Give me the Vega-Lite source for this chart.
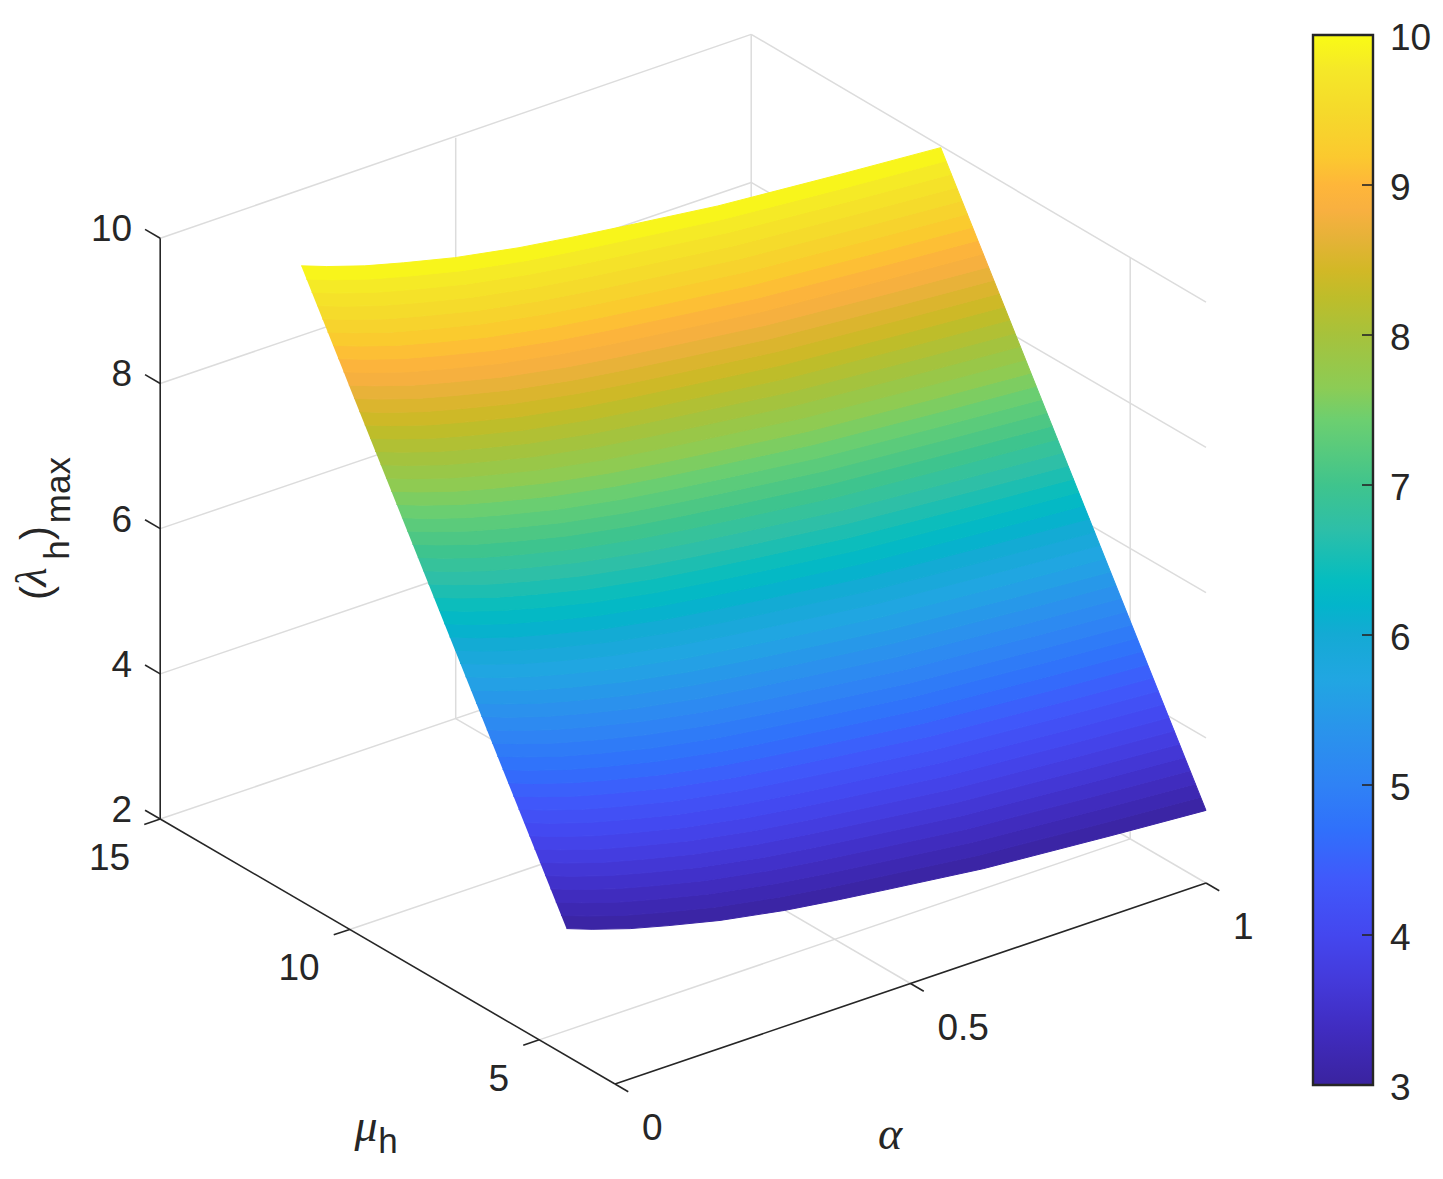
{"$schema":"https://vega.github.io/schema/vega-lite/v6.json","width":1443,"height":1179,"padding":0,"autosize":{"type":"none"},"background":"white","config":{"view":{"stroke":null}},
"data":{"values":[
{"a":0.1,"m":5.84,"l":3},{"a":0.126,"m":5.57,"l":3},{"a":0.168,"m":5.22,"l":3},{"a":0.215,"m":4.93,"l":3},{"a":0.279,"m":4.58,"l":3},{"a":0.366,"m":4.24,"l":3},{"a":0.439,"m":4.03,"l":3},{"a":0.514,"m":3.84,"l":3},{"a":0.655,"m":3.5,"l":3},{"a":0.852,"m":3.2,"l":3},{"a":1,"m":3,"l":3},
{"a":0.1,"m":5.98,"l":3.14},{"a":0.126,"m":5.71,"l":3.14},{"a":0.168,"m":5.36,"l":3.14},{"a":0.215,"m":5.07,"l":3.14},{"a":0.279,"m":4.72,"l":3.14},{"a":0.366,"m":4.38,"l":3.14},{"a":0.439,"m":4.17,"l":3.14},{"a":0.514,"m":3.98,"l":3.14},{"a":0.655,"m":3.64,"l":3.14},{"a":0.852,"m":3.34,"l":3.14},{"a":1,"m":3.14,"l":3.14},
{"a":0.1,"m":6.12,"l":3.28},{"a":0.126,"m":5.85,"l":3.28},{"a":0.168,"m":5.5,"l":3.28},{"a":0.215,"m":5.21,"l":3.28},{"a":0.279,"m":4.86,"l":3.28},{"a":0.366,"m":4.52,"l":3.28},{"a":0.439,"m":4.31,"l":3.28},{"a":0.514,"m":4.12,"l":3.28},{"a":0.655,"m":3.78,"l":3.28},{"a":0.852,"m":3.48,"l":3.28},{"a":1,"m":3.28,"l":3.28},
{"a":0.1,"m":6.26,"l":3.42},{"a":0.126,"m":5.99,"l":3.42},{"a":0.168,"m":5.64,"l":3.42},{"a":0.215,"m":5.35,"l":3.42},{"a":0.279,"m":5,"l":3.42},{"a":0.366,"m":4.66,"l":3.42},{"a":0.439,"m":4.45,"l":3.42},{"a":0.514,"m":4.26,"l":3.42},{"a":0.655,"m":3.92,"l":3.42},{"a":0.852,"m":3.62,"l":3.42},{"a":1,"m":3.42,"l":3.42},
{"a":0.1,"m":6.4,"l":3.56},{"a":0.126,"m":6.13,"l":3.56},{"a":0.168,"m":5.78,"l":3.56},{"a":0.215,"m":5.49,"l":3.56},{"a":0.279,"m":5.14,"l":3.56},{"a":0.366,"m":4.8,"l":3.56},{"a":0.439,"m":4.59,"l":3.56},{"a":0.514,"m":4.4,"l":3.56},{"a":0.655,"m":4.06,"l":3.56},{"a":0.852,"m":3.76,"l":3.56},{"a":1,"m":3.56,"l":3.56},
{"a":0.1,"m":6.54,"l":3.7},{"a":0.126,"m":6.27,"l":3.7},{"a":0.168,"m":5.92,"l":3.7},{"a":0.215,"m":5.63,"l":3.7},{"a":0.279,"m":5.28,"l":3.7},{"a":0.366,"m":4.94,"l":3.7},{"a":0.439,"m":4.73,"l":3.7},{"a":0.514,"m":4.54,"l":3.7},{"a":0.655,"m":4.2,"l":3.7},{"a":0.852,"m":3.9,"l":3.7},{"a":1,"m":3.7,"l":3.7},
{"a":0.1,"m":6.68,"l":3.84},{"a":0.126,"m":6.41,"l":3.84},{"a":0.168,"m":6.06,"l":3.84},{"a":0.215,"m":5.77,"l":3.84},{"a":0.279,"m":5.42,"l":3.84},{"a":0.366,"m":5.08,"l":3.84},{"a":0.439,"m":4.87,"l":3.84},{"a":0.514,"m":4.68,"l":3.84},{"a":0.655,"m":4.34,"l":3.84},{"a":0.852,"m":4.04,"l":3.84},{"a":1,"m":3.84,"l":3.84},
{"a":0.1,"m":6.82,"l":3.98},{"a":0.126,"m":6.55,"l":3.98},{"a":0.168,"m":6.2,"l":3.98},{"a":0.215,"m":5.91,"l":3.98},{"a":0.279,"m":5.56,"l":3.98},{"a":0.366,"m":5.22,"l":3.98},{"a":0.439,"m":5.01,"l":3.98},{"a":0.514,"m":4.82,"l":3.98},{"a":0.655,"m":4.48,"l":3.98},{"a":0.852,"m":4.18,"l":3.98},{"a":1,"m":3.98,"l":3.98},
{"a":0.1,"m":6.96,"l":4.12},{"a":0.126,"m":6.69,"l":4.12},{"a":0.168,"m":6.34,"l":4.12},{"a":0.215,"m":6.05,"l":4.12},{"a":0.279,"m":5.7,"l":4.12},{"a":0.366,"m":5.36,"l":4.12},{"a":0.439,"m":5.15,"l":4.12},{"a":0.514,"m":4.96,"l":4.12},{"a":0.655,"m":4.62,"l":4.12},{"a":0.852,"m":4.32,"l":4.12},{"a":1,"m":4.12,"l":4.12},
{"a":0.1,"m":7.1,"l":4.26},{"a":0.126,"m":6.83,"l":4.26},{"a":0.168,"m":6.48,"l":4.26},{"a":0.215,"m":6.19,"l":4.26},{"a":0.279,"m":5.84,"l":4.26},{"a":0.366,"m":5.5,"l":4.26},{"a":0.439,"m":5.29,"l":4.26},{"a":0.514,"m":5.1,"l":4.26},{"a":0.655,"m":4.76,"l":4.26},{"a":0.852,"m":4.46,"l":4.26},{"a":1,"m":4.26,"l":4.26},
{"a":0.1,"m":7.24,"l":4.4},{"a":0.126,"m":6.97,"l":4.4},{"a":0.168,"m":6.62,"l":4.4},{"a":0.215,"m":6.33,"l":4.4},{"a":0.279,"m":5.98,"l":4.4},{"a":0.366,"m":5.64,"l":4.4},{"a":0.439,"m":5.43,"l":4.4},{"a":0.514,"m":5.24,"l":4.4},{"a":0.655,"m":4.9,"l":4.4},{"a":0.852,"m":4.6,"l":4.4},{"a":1,"m":4.4,"l":4.4},
{"a":0.1,"m":7.38,"l":4.54},{"a":0.126,"m":7.11,"l":4.54},{"a":0.168,"m":6.76,"l":4.54},{"a":0.215,"m":6.47,"l":4.54},{"a":0.279,"m":6.12,"l":4.54},{"a":0.366,"m":5.78,"l":4.54},{"a":0.439,"m":5.57,"l":4.54},{"a":0.514,"m":5.38,"l":4.54},{"a":0.655,"m":5.04,"l":4.54},{"a":0.852,"m":4.74,"l":4.54},{"a":1,"m":4.54,"l":4.54},
{"a":0.1,"m":7.52,"l":4.68},{"a":0.126,"m":7.25,"l":4.68},{"a":0.168,"m":6.9,"l":4.68},{"a":0.215,"m":6.61,"l":4.68},{"a":0.279,"m":6.26,"l":4.68},{"a":0.366,"m":5.92,"l":4.68},{"a":0.439,"m":5.71,"l":4.68},{"a":0.514,"m":5.52,"l":4.68},{"a":0.655,"m":5.18,"l":4.68},{"a":0.852,"m":4.88,"l":4.68},{"a":1,"m":4.68,"l":4.68},
{"a":0.1,"m":7.66,"l":4.82},{"a":0.126,"m":7.39,"l":4.82},{"a":0.168,"m":7.04,"l":4.82},{"a":0.215,"m":6.75,"l":4.82},{"a":0.279,"m":6.4,"l":4.82},{"a":0.366,"m":6.06,"l":4.82},{"a":0.439,"m":5.85,"l":4.82},{"a":0.514,"m":5.66,"l":4.82},{"a":0.655,"m":5.32,"l":4.82},{"a":0.852,"m":5.02,"l":4.82},{"a":1,"m":4.82,"l":4.82},
{"a":0.1,"m":7.8,"l":4.96},{"a":0.126,"m":7.53,"l":4.96},{"a":0.168,"m":7.18,"l":4.96},{"a":0.215,"m":6.89,"l":4.96},{"a":0.279,"m":6.54,"l":4.96},{"a":0.366,"m":6.2,"l":4.96},{"a":0.439,"m":5.99,"l":4.96},{"a":0.514,"m":5.8,"l":4.96},{"a":0.655,"m":5.46,"l":4.96},{"a":0.852,"m":5.16,"l":4.96},{"a":1,"m":4.96,"l":4.96},
{"a":0.1,"m":7.94,"l":5.1},{"a":0.126,"m":7.67,"l":5.1},{"a":0.168,"m":7.32,"l":5.1},{"a":0.215,"m":7.03,"l":5.1},{"a":0.279,"m":6.68,"l":5.1},{"a":0.366,"m":6.34,"l":5.1},{"a":0.439,"m":6.13,"l":5.1},{"a":0.514,"m":5.94,"l":5.1},{"a":0.655,"m":5.6,"l":5.1},{"a":0.852,"m":5.3,"l":5.1},{"a":1,"m":5.1,"l":5.1},
{"a":0.1,"m":8.08,"l":5.24},{"a":0.126,"m":7.81,"l":5.24},{"a":0.168,"m":7.46,"l":5.24},{"a":0.215,"m":7.17,"l":5.24},{"a":0.279,"m":6.82,"l":5.24},{"a":0.366,"m":6.48,"l":5.24},{"a":0.439,"m":6.27,"l":5.24},{"a":0.514,"m":6.08,"l":5.24},{"a":0.655,"m":5.74,"l":5.24},{"a":0.852,"m":5.44,"l":5.24},{"a":1,"m":5.24,"l":5.24},
{"a":0.1,"m":8.22,"l":5.38},{"a":0.126,"m":7.95,"l":5.38},{"a":0.168,"m":7.6,"l":5.38},{"a":0.215,"m":7.31,"l":5.38},{"a":0.279,"m":6.96,"l":5.38},{"a":0.366,"m":6.62,"l":5.38},{"a":0.439,"m":6.41,"l":5.38},{"a":0.514,"m":6.22,"l":5.38},{"a":0.655,"m":5.88,"l":5.38},{"a":0.852,"m":5.58,"l":5.38},{"a":1,"m":5.38,"l":5.38},
{"a":0.1,"m":8.36,"l":5.52},{"a":0.126,"m":8.09,"l":5.52},{"a":0.168,"m":7.74,"l":5.52},{"a":0.215,"m":7.45,"l":5.52},{"a":0.279,"m":7.1,"l":5.52},{"a":0.366,"m":6.76,"l":5.52},{"a":0.439,"m":6.55,"l":5.52},{"a":0.514,"m":6.36,"l":5.52},{"a":0.655,"m":6.02,"l":5.52},{"a":0.852,"m":5.72,"l":5.52},{"a":1,"m":5.52,"l":5.52},
{"a":0.1,"m":8.5,"l":5.66},{"a":0.126,"m":8.23,"l":5.66},{"a":0.168,"m":7.88,"l":5.66},{"a":0.215,"m":7.59,"l":5.66},{"a":0.279,"m":7.24,"l":5.66},{"a":0.366,"m":6.9,"l":5.66},{"a":0.439,"m":6.69,"l":5.66},{"a":0.514,"m":6.5,"l":5.66},{"a":0.655,"m":6.16,"l":5.66},{"a":0.852,"m":5.86,"l":5.66},{"a":1,"m":5.66,"l":5.66},
{"a":0.1,"m":8.64,"l":5.8},{"a":0.126,"m":8.37,"l":5.8},{"a":0.168,"m":8.02,"l":5.8},{"a":0.215,"m":7.73,"l":5.8},{"a":0.279,"m":7.38,"l":5.8},{"a":0.366,"m":7.04,"l":5.8},{"a":0.439,"m":6.83,"l":5.8},{"a":0.514,"m":6.64,"l":5.8},{"a":0.655,"m":6.3,"l":5.8},{"a":0.852,"m":6,"l":5.8},{"a":1,"m":5.8,"l":5.8},
{"a":0.1,"m":8.78,"l":5.94},{"a":0.126,"m":8.51,"l":5.94},{"a":0.168,"m":8.16,"l":5.94},{"a":0.215,"m":7.87,"l":5.94},{"a":0.279,"m":7.52,"l":5.94},{"a":0.366,"m":7.18,"l":5.94},{"a":0.439,"m":6.97,"l":5.94},{"a":0.514,"m":6.78,"l":5.94},{"a":0.655,"m":6.44,"l":5.94},{"a":0.852,"m":6.14,"l":5.94},{"a":1,"m":5.94,"l":5.94},
{"a":0.1,"m":8.92,"l":6.08},{"a":0.126,"m":8.65,"l":6.08},{"a":0.168,"m":8.3,"l":6.08},{"a":0.215,"m":8.01,"l":6.08},{"a":0.279,"m":7.66,"l":6.08},{"a":0.366,"m":7.32,"l":6.08},{"a":0.439,"m":7.11,"l":6.08},{"a":0.514,"m":6.92,"l":6.08},{"a":0.655,"m":6.58,"l":6.08},{"a":0.852,"m":6.28,"l":6.08},{"a":1,"m":6.08,"l":6.08},
{"a":0.1,"m":9.06,"l":6.22},{"a":0.126,"m":8.79,"l":6.22},{"a":0.168,"m":8.44,"l":6.22},{"a":0.215,"m":8.15,"l":6.22},{"a":0.279,"m":7.8,"l":6.22},{"a":0.366,"m":7.46,"l":6.22},{"a":0.439,"m":7.25,"l":6.22},{"a":0.514,"m":7.06,"l":6.22},{"a":0.655,"m":6.72,"l":6.22},{"a":0.852,"m":6.42,"l":6.22},{"a":1,"m":6.22,"l":6.22},
{"a":0.1,"m":9.2,"l":6.36},{"a":0.126,"m":8.93,"l":6.36},{"a":0.168,"m":8.58,"l":6.36},{"a":0.215,"m":8.29,"l":6.36},{"a":0.279,"m":7.94,"l":6.36},{"a":0.366,"m":7.6,"l":6.36},{"a":0.439,"m":7.39,"l":6.36},{"a":0.514,"m":7.2,"l":6.36},{"a":0.655,"m":6.86,"l":6.36},{"a":0.852,"m":6.56,"l":6.36},{"a":1,"m":6.36,"l":6.36},
{"a":0.1,"m":9.34,"l":6.5},{"a":0.126,"m":9.07,"l":6.5},{"a":0.168,"m":8.72,"l":6.5},{"a":0.215,"m":8.43,"l":6.5},{"a":0.279,"m":8.08,"l":6.5},{"a":0.366,"m":7.74,"l":6.5},{"a":0.439,"m":7.53,"l":6.5},{"a":0.514,"m":7.34,"l":6.5},{"a":0.655,"m":7,"l":6.5},{"a":0.852,"m":6.7,"l":6.5},{"a":1,"m":6.5,"l":6.5},
{"a":0.1,"m":9.48,"l":6.64},{"a":0.126,"m":9.21,"l":6.64},{"a":0.168,"m":8.86,"l":6.64},{"a":0.215,"m":8.57,"l":6.64},{"a":0.279,"m":8.22,"l":6.64},{"a":0.366,"m":7.88,"l":6.64},{"a":0.439,"m":7.67,"l":6.64},{"a":0.514,"m":7.48,"l":6.64},{"a":0.655,"m":7.14,"l":6.64},{"a":0.852,"m":6.84,"l":6.64},{"a":1,"m":6.64,"l":6.64},
{"a":0.1,"m":9.62,"l":6.78},{"a":0.126,"m":9.35,"l":6.78},{"a":0.168,"m":9,"l":6.78},{"a":0.215,"m":8.71,"l":6.78},{"a":0.279,"m":8.36,"l":6.78},{"a":0.366,"m":8.02,"l":6.78},{"a":0.439,"m":7.81,"l":6.78},{"a":0.514,"m":7.62,"l":6.78},{"a":0.655,"m":7.28,"l":6.78},{"a":0.852,"m":6.98,"l":6.78},{"a":1,"m":6.78,"l":6.78},
{"a":0.1,"m":9.76,"l":6.92},{"a":0.126,"m":9.49,"l":6.92},{"a":0.168,"m":9.14,"l":6.92},{"a":0.215,"m":8.85,"l":6.92},{"a":0.279,"m":8.5,"l":6.92},{"a":0.366,"m":8.16,"l":6.92},{"a":0.439,"m":7.95,"l":6.92},{"a":0.514,"m":7.76,"l":6.92},{"a":0.655,"m":7.42,"l":6.92},{"a":0.852,"m":7.12,"l":6.92},{"a":1,"m":6.92,"l":6.92},
{"a":0.1,"m":9.9,"l":7.06},{"a":0.126,"m":9.63,"l":7.06},{"a":0.168,"m":9.28,"l":7.06},{"a":0.215,"m":8.99,"l":7.06},{"a":0.279,"m":8.64,"l":7.06},{"a":0.366,"m":8.3,"l":7.06},{"a":0.439,"m":8.09,"l":7.06},{"a":0.514,"m":7.9,"l":7.06},{"a":0.655,"m":7.56,"l":7.06},{"a":0.852,"m":7.26,"l":7.06},{"a":1,"m":7.06,"l":7.06},
{"a":0.1,"m":10.04,"l":7.2},{"a":0.126,"m":9.77,"l":7.2},{"a":0.168,"m":9.42,"l":7.2},{"a":0.215,"m":9.13,"l":7.2},{"a":0.279,"m":8.78,"l":7.2},{"a":0.366,"m":8.44,"l":7.2},{"a":0.439,"m":8.23,"l":7.2},{"a":0.514,"m":8.04,"l":7.2},{"a":0.655,"m":7.7,"l":7.2},{"a":0.852,"m":7.4,"l":7.2},{"a":1,"m":7.2,"l":7.2},
{"a":0.1,"m":10.18,"l":7.34},{"a":0.126,"m":9.91,"l":7.34},{"a":0.168,"m":9.56,"l":7.34},{"a":0.215,"m":9.27,"l":7.34},{"a":0.279,"m":8.92,"l":7.34},{"a":0.366,"m":8.58,"l":7.34},{"a":0.439,"m":8.37,"l":7.34},{"a":0.514,"m":8.18,"l":7.34},{"a":0.655,"m":7.84,"l":7.34},{"a":0.852,"m":7.54,"l":7.34},{"a":1,"m":7.34,"l":7.34},
{"a":0.1,"m":10.32,"l":7.48},{"a":0.126,"m":10.05,"l":7.48},{"a":0.168,"m":9.7,"l":7.48},{"a":0.215,"m":9.41,"l":7.48},{"a":0.279,"m":9.06,"l":7.48},{"a":0.366,"m":8.72,"l":7.48},{"a":0.439,"m":8.51,"l":7.48},{"a":0.514,"m":8.32,"l":7.48},{"a":0.655,"m":7.98,"l":7.48},{"a":0.852,"m":7.68,"l":7.48},{"a":1,"m":7.48,"l":7.48},
{"a":0.1,"m":10.46,"l":7.62},{"a":0.126,"m":10.19,"l":7.62},{"a":0.168,"m":9.84,"l":7.62},{"a":0.215,"m":9.55,"l":7.62},{"a":0.279,"m":9.2,"l":7.62},{"a":0.366,"m":8.86,"l":7.62},{"a":0.439,"m":8.65,"l":7.62},{"a":0.514,"m":8.46,"l":7.62},{"a":0.655,"m":8.12,"l":7.62},{"a":0.852,"m":7.82,"l":7.62},{"a":1,"m":7.62,"l":7.62},
{"a":0.1,"m":10.6,"l":7.76},{"a":0.126,"m":10.33,"l":7.76},{"a":0.168,"m":9.98,"l":7.76},{"a":0.215,"m":9.69,"l":7.76},{"a":0.279,"m":9.34,"l":7.76},{"a":0.366,"m":9,"l":7.76},{"a":0.439,"m":8.79,"l":7.76},{"a":0.514,"m":8.6,"l":7.76},{"a":0.655,"m":8.26,"l":7.76},{"a":0.852,"m":7.96,"l":7.76},{"a":1,"m":7.76,"l":7.76},
{"a":0.1,"m":10.74,"l":7.9},{"a":0.126,"m":10.47,"l":7.9},{"a":0.168,"m":10.12,"l":7.9},{"a":0.215,"m":9.83,"l":7.9},{"a":0.279,"m":9.48,"l":7.9},{"a":0.366,"m":9.14,"l":7.9},{"a":0.439,"m":8.93,"l":7.9},{"a":0.514,"m":8.74,"l":7.9},{"a":0.655,"m":8.4,"l":7.9},{"a":0.852,"m":8.1,"l":7.9},{"a":1,"m":7.9,"l":7.9},
{"a":0.1,"m":10.88,"l":8.04},{"a":0.126,"m":10.61,"l":8.04},{"a":0.168,"m":10.26,"l":8.04},{"a":0.215,"m":9.97,"l":8.04},{"a":0.279,"m":9.62,"l":8.04},{"a":0.366,"m":9.28,"l":8.04},{"a":0.439,"m":9.07,"l":8.04},{"a":0.514,"m":8.88,"l":8.04},{"a":0.655,"m":8.54,"l":8.04},{"a":0.852,"m":8.24,"l":8.04},{"a":1,"m":8.04,"l":8.04},
{"a":0.1,"m":11.02,"l":8.18},{"a":0.126,"m":10.75,"l":8.18},{"a":0.168,"m":10.4,"l":8.18},{"a":0.215,"m":10.11,"l":8.18},{"a":0.279,"m":9.76,"l":8.18},{"a":0.366,"m":9.42,"l":8.18},{"a":0.439,"m":9.21,"l":8.18},{"a":0.514,"m":9.02,"l":8.18},{"a":0.655,"m":8.68,"l":8.18},{"a":0.852,"m":8.38,"l":8.18},{"a":1,"m":8.18,"l":8.18},
{"a":0.1,"m":11.16,"l":8.32},{"a":0.126,"m":10.89,"l":8.32},{"a":0.168,"m":10.54,"l":8.32},{"a":0.215,"m":10.25,"l":8.32},{"a":0.279,"m":9.9,"l":8.32},{"a":0.366,"m":9.56,"l":8.32},{"a":0.439,"m":9.35,"l":8.32},{"a":0.514,"m":9.16,"l":8.32},{"a":0.655,"m":8.82,"l":8.32},{"a":0.852,"m":8.52,"l":8.32},{"a":1,"m":8.32,"l":8.32},
{"a":0.1,"m":11.3,"l":8.46},{"a":0.126,"m":11.03,"l":8.46},{"a":0.168,"m":10.68,"l":8.46},{"a":0.215,"m":10.39,"l":8.46},{"a":0.279,"m":10.04,"l":8.46},{"a":0.366,"m":9.7,"l":8.46},{"a":0.439,"m":9.49,"l":8.46},{"a":0.514,"m":9.3,"l":8.46},{"a":0.655,"m":8.96,"l":8.46},{"a":0.852,"m":8.66,"l":8.46},{"a":1,"m":8.46,"l":8.46},
{"a":0.1,"m":11.44,"l":8.6},{"a":0.126,"m":11.17,"l":8.6},{"a":0.168,"m":10.82,"l":8.6},{"a":0.215,"m":10.53,"l":8.6},{"a":0.279,"m":10.18,"l":8.6},{"a":0.366,"m":9.84,"l":8.6},{"a":0.439,"m":9.63,"l":8.6},{"a":0.514,"m":9.44,"l":8.6},{"a":0.655,"m":9.1,"l":8.6},{"a":0.852,"m":8.8,"l":8.6},{"a":1,"m":8.6,"l":8.6},
{"a":0.1,"m":11.58,"l":8.74},{"a":0.126,"m":11.31,"l":8.74},{"a":0.168,"m":10.96,"l":8.74},{"a":0.215,"m":10.67,"l":8.74},{"a":0.279,"m":10.32,"l":8.74},{"a":0.366,"m":9.98,"l":8.74},{"a":0.439,"m":9.77,"l":8.74},{"a":0.514,"m":9.58,"l":8.74},{"a":0.655,"m":9.24,"l":8.74},{"a":0.852,"m":8.94,"l":8.74},{"a":1,"m":8.74,"l":8.74},
{"a":0.1,"m":11.72,"l":8.88},{"a":0.126,"m":11.45,"l":8.88},{"a":0.168,"m":11.1,"l":8.88},{"a":0.215,"m":10.81,"l":8.88},{"a":0.279,"m":10.46,"l":8.88},{"a":0.366,"m":10.12,"l":8.88},{"a":0.439,"m":9.91,"l":8.88},{"a":0.514,"m":9.72,"l":8.88},{"a":0.655,"m":9.38,"l":8.88},{"a":0.852,"m":9.08,"l":8.88},{"a":1,"m":8.88,"l":8.88},
{"a":0.1,"m":11.86,"l":9.02},{"a":0.126,"m":11.59,"l":9.02},{"a":0.168,"m":11.24,"l":9.02},{"a":0.215,"m":10.95,"l":9.02},{"a":0.279,"m":10.6,"l":9.02},{"a":0.366,"m":10.26,"l":9.02},{"a":0.439,"m":10.05,"l":9.02},{"a":0.514,"m":9.86,"l":9.02},{"a":0.655,"m":9.52,"l":9.02},{"a":0.852,"m":9.22,"l":9.02},{"a":1,"m":9.02,"l":9.02},
{"a":0.1,"m":12,"l":9.16},{"a":0.126,"m":11.73,"l":9.16},{"a":0.168,"m":11.38,"l":9.16},{"a":0.215,"m":11.09,"l":9.16},{"a":0.279,"m":10.74,"l":9.16},{"a":0.366,"m":10.4,"l":9.16},{"a":0.439,"m":10.19,"l":9.16},{"a":0.514,"m":10,"l":9.16},{"a":0.655,"m":9.66,"l":9.16},{"a":0.852,"m":9.36,"l":9.16},{"a":1,"m":9.16,"l":9.16},
{"a":0.1,"m":12.14,"l":9.3},{"a":0.126,"m":11.87,"l":9.3},{"a":0.168,"m":11.52,"l":9.3},{"a":0.215,"m":11.23,"l":9.3},{"a":0.279,"m":10.88,"l":9.3},{"a":0.366,"m":10.54,"l":9.3},{"a":0.439,"m":10.33,"l":9.3},{"a":0.514,"m":10.14,"l":9.3},{"a":0.655,"m":9.8,"l":9.3},{"a":0.852,"m":9.5,"l":9.3},{"a":1,"m":9.3,"l":9.3},
{"a":0.1,"m":12.28,"l":9.44},{"a":0.126,"m":12.01,"l":9.44},{"a":0.168,"m":11.66,"l":9.44},{"a":0.215,"m":11.37,"l":9.44},{"a":0.279,"m":11.02,"l":9.44},{"a":0.366,"m":10.68,"l":9.44},{"a":0.439,"m":10.47,"l":9.44},{"a":0.514,"m":10.28,"l":9.44},{"a":0.655,"m":9.94,"l":9.44},{"a":0.852,"m":9.64,"l":9.44},{"a":1,"m":9.44,"l":9.44},
{"a":0.1,"m":12.42,"l":9.58},{"a":0.126,"m":12.15,"l":9.58},{"a":0.168,"m":11.8,"l":9.58},{"a":0.215,"m":11.51,"l":9.58},{"a":0.279,"m":11.16,"l":9.58},{"a":0.366,"m":10.82,"l":9.58},{"a":0.439,"m":10.61,"l":9.58},{"a":0.514,"m":10.42,"l":9.58},{"a":0.655,"m":10.08,"l":9.58},{"a":0.852,"m":9.78,"l":9.58},{"a":1,"m":9.58,"l":9.58},
{"a":0.1,"m":12.56,"l":9.72},{"a":0.126,"m":12.29,"l":9.72},{"a":0.168,"m":11.94,"l":9.72},{"a":0.215,"m":11.65,"l":9.72},{"a":0.279,"m":11.3,"l":9.72},{"a":0.366,"m":10.96,"l":9.72},{"a":0.439,"m":10.75,"l":9.72},{"a":0.514,"m":10.56,"l":9.72},{"a":0.655,"m":10.22,"l":9.72},{"a":0.852,"m":9.92,"l":9.72},{"a":1,"m":9.72,"l":9.72},
{"a":0.1,"m":12.7,"l":9.86},{"a":0.126,"m":12.43,"l":9.86},{"a":0.168,"m":12.08,"l":9.86},{"a":0.215,"m":11.79,"l":9.86},{"a":0.279,"m":11.44,"l":9.86},{"a":0.366,"m":11.1,"l":9.86},{"a":0.439,"m":10.89,"l":9.86},{"a":0.514,"m":10.7,"l":9.86},{"a":0.655,"m":10.36,"l":9.86},{"a":0.852,"m":10.06,"l":9.86},{"a":1,"m":9.86,"l":9.86},
{"a":0.1,"m":12.84,"l":10},{"a":0.126,"m":12.57,"l":10},{"a":0.168,"m":12.22,"l":10},{"a":0.215,"m":11.93,"l":10},{"a":0.279,"m":11.58,"l":10},{"a":0.366,"m":11.24,"l":10},{"a":0.439,"m":11.03,"l":10},{"a":0.514,"m":10.84,"l":10},{"a":0.655,"m":10.5,"l":10},{"a":0.852,"m":10.2,"l":10},{"a":1,"m":10,"l":10},
{"kind":"grid","g":"w4","a":0,"m":15,"l":4},{"kind":"grid","g":"w4","a":1,"m":15,"l":4},
{"kind":"grid","g":"w6","a":0,"m":15,"l":6},{"kind":"grid","g":"w6","a":1,"m":15,"l":6},
{"kind":"grid","g":"w8","a":0,"m":15,"l":8},{"kind":"grid","g":"w8","a":1,"m":15,"l":8},
{"kind":"grid","g":"w10","a":0,"m":15,"l":10},{"kind":"grid","g":"w10","a":1,"m":15,"l":10.04},
{"kind":"grid","g":"w2","a":0,"m":15,"l":2},{"kind":"grid","g":"w2","a":1,"m":15,"l":2},
{"kind":"grid","g":"va5","a":0.5,"m":15,"l":2},{"kind":"grid","g":"va5","a":0.5,"m":15,"l":10},
{"kind":"grid","g":"va1","a":1,"m":15,"l":2},{"kind":"grid","g":"va1","a":1,"m":15,"l":10.04},
{"kind":"grid","g":"r2","a":1,"m":15,"l":2},{"kind":"grid","g":"r2","a":1,"m":3,"l":2},
{"kind":"grid","g":"r4","a":1,"m":15,"l":4},{"kind":"grid","g":"r4","a":1,"m":3,"l":4},
{"kind":"grid","g":"r6","a":1,"m":15,"l":6},{"kind":"grid","g":"r6","a":1,"m":3,"l":6},
{"kind":"grid","g":"r8","a":1,"m":15,"l":8},{"kind":"grid","g":"r8","a":1,"m":3,"l":8},
{"kind":"grid","g":"r10","a":1,"m":15,"l":10.04},{"kind":"grid","g":"r10","a":1,"m":3,"l":10},
{"kind":"grid","g":"vm5","a":1,"m":5,"l":2},{"kind":"grid","g":"vm5","a":1,"m":5,"l":10},
{"kind":"grid","g":"vm10","a":1,"m":10,"l":2},{"kind":"grid","g":"vm10","a":1,"m":10,"l":10},
{"kind":"grid","g":"fa5","a":0.5,"m":3,"l":2},{"kind":"grid","g":"fa5","a":0.5,"m":15,"l":2},
{"kind":"grid","g":"fm5","a":0,"m":5,"l":2},{"kind":"grid","g":"fm5","a":1,"m":5,"l":2},
{"kind":"grid","g":"fm10","a":0,"m":10,"l":2},{"kind":"grid","g":"fm10","a":1,"m":10,"l":2},
{"kind":"axis","g":"aa","a":0,"m":3,"l":2},{"kind":"axis","g":"aa","a":1,"m":3,"l":2},
{"kind":"axis","g":"am","a":0,"m":3,"l":2},{"kind":"axis","g":"am","a":0,"m":15,"l":2},
{"kind":"axis","g":"al","a":0,"m":15,"l":2},{"kind":"axis","g":"al","a":0,"m":15,"l":10},
{"kind":"axis","g":"ta0","a":0,"m":3,"l":2},{"kind":"axis","g":"ta0","a":0,"m":2.65,"l":2},
{"kind":"axis","g":"ta5","a":0.5,"m":3,"l":2},{"kind":"axis","g":"ta5","a":0.5,"m":2.65,"l":2},
{"kind":"axis","g":"ta1","a":1,"m":3,"l":2},{"kind":"axis","g":"ta1","a":1,"m":2.65,"l":2},
{"kind":"axis","g":"tm5","a":0,"m":5,"l":2},{"kind":"axis","g":"tm5","a":-0.027,"m":5,"l":2},
{"kind":"axis","g":"tm10","a":0,"m":10,"l":2},{"kind":"axis","g":"tm10","a":-0.027,"m":10,"l":2},
{"kind":"axis","g":"tm15","a":0,"m":15,"l":2},{"kind":"axis","g":"tm15","a":-0.027,"m":15,"l":2},
{"kind":"axis","g":"tl2","a":0,"m":15,"l":2},{"kind":"axis","g":"tl2","a":0,"m":15.4,"l":2},
{"kind":"axis","g":"tl4","a":0,"m":15,"l":4},{"kind":"axis","g":"tl4","a":0,"m":15.4,"l":4},
{"kind":"axis","g":"tl6","a":0,"m":15,"l":6},{"kind":"axis","g":"tl6","a":0,"m":15.4,"l":6},
{"kind":"axis","g":"tl8","a":0,"m":15,"l":8},{"kind":"axis","g":"tl8","a":0,"m":15.4,"l":8},
{"kind":"axis","g":"tl10","a":0,"m":15,"l":10},{"kind":"axis","g":"tl10","a":0,"m":15.4,"l":10},
{"kind":"lz","t":"2","a":0,"m":15,"l":2},{"kind":"lz","t":"4","a":0,"m":15,"l":4},{"kind":"lz","t":"6","a":0,"m":15,"l":6},{"kind":"lz","t":"8","a":0,"m":15,"l":8},{"kind":"lz","t":"10","a":0,"m":15,"l":10},
{"kind":"lm","t":"5","a":0,"m":5,"l":2},{"kind":"lm","t":"10","a":0,"m":10,"l":2},{"kind":"lm","t":"15","a":0,"m":15,"l":2},
{"kind":"la","t":"0","a":0,"m":3,"l":2},{"kind":"la","t":"0.5","a":0.5,"m":3,"l":2},{"kind":"la","t":"1","a":1,"m":3,"l":2},
{"kind":"ts","t":"μ","a":-0.3449,"m":4.192,"l":2},{"kind":"ts","t":"α","a":0.2003,"m":-1.133,"l":2},
{"kind":"th","t":"h","a":-0.3489,"m":3.549,"l":2},
{"kind":"yl","t":"λ","a":-0.2149,"m":15,"l":5.928},
{"kind":"yp","t":"(","a":-0.2081,"m":15,"l":5.689},{"kind":"yp","t":")","a":-0.2081,"m":15,"l":6.515},
{"kind":"ys","t":"h","a":-0.1726,"m":15,"l":6.183},{"kind":"ys","t":"max","a":-0.1709,"m":15,"l":7.004},
{"kind":"cbar","lo":3,"hi":10},
{"kind":"cb","v":3},{"kind":"cb","v":4},{"kind":"cb","v":5},{"kind":"cb","v":6},{"kind":"cb","v":7},{"kind":"cb","v":8},{"kind":"cb","v":9},{"kind":"cb","v":10}
]},
"transform":[
{"calculate":"615+591*datum.a-37.9*(datum.m-3)","as":"sx"},
{"calculate":"1084-201*datum.a-22.08*(datum.m-3)-72.6*(datum.l-2)","as":"sy"},
{"calculate":"1085-150*(datum.v-3)","as":"cy"},
{"calculate":"1085-150*(datum.lo-3)","as":"cy0"},
{"calculate":"1085-150*(datum.hi-3)","as":"cy1"},
{"calculate":"1313","as":"bx0"},{"calculate":"1373","as":"bx1"},{"calculate":"1362","as":"tx0"},{"calculate":"1390","as":"lx"}
],
"encoding":{
"x":{"field":"sx","type":"quantitative","scale":{"domain":[0,1443],"nice":false,"zero":false},"axis":null},
"y":{"field":"sy","type":"quantitative","scale":{"domain":[1179,0],"nice":false,"zero":false},"axis":null}
},
"layer":[
{"transform":[{"filter":"datum.kind==='grid'"}],"mark":{"type":"line","stroke":"#dcdcdc","strokeWidth":1.5},"encoding":{"detail":{"field":"g"}}},
{"transform":[{"filter":"datum.kind==='axis'"}],"mark":{"type":"line","stroke":"#262626","strokeWidth":1.6},"encoding":{"detail":{"field":"g"}}},
{"transform":[{"filter":"!datum.kind"},
{"calculate":"round((datum.l-0.07)*100)/100","as":"k1"},{"calculate":"round((datum.l+0.07)*100)/100","as":"k2"},
{"fold":["k1","k2"],"as":["side","band"]},{"filter":"datum.band>=3&&datum.band<=10"},
{"calculate":"datum.band>datum.l?datum.a:3-datum.a","as":"vertex"}],
"mark":{"type":"line","strokeWidth":1,"strokeJoin":"round"},
"encoding":{"detail":{"field":"band"},"order":{"field":"vertex","type":"quantitative"},
"fill":{"field":"band","type":"quantitative","scale":{"interpolate":"rgb","domain":[3,3.37,3.7,4,4.37,4.7,5,5.35,5.7,6,6.2,6.37,6.7,7,7.43,7.65,8,8.25,8.43,8.65,8.83,9,9.19,9.48,9.77,10],"range":["#3a239f","#402cc0","#443adb","#4447ef","#4059fb","#3070fb","#2f82f5","#2a93ec","#21a6e2","#14aad4","#03b5cb","#05bdc0","#2dbfa8","#3fc48d","#6ccf70","#8ccc55","#a6c23c","#bebd2a","#d2b826","#e6b238","#f8b040","#feb63a","#fbc92f","#f5d92b","#f5e828","#f9fb15"]},"legend":null},
"stroke":{"field":"band","type":"quantitative","scale":{"interpolate":"rgb","domain":[3,3.37,3.7,4,4.37,4.7,5,5.35,5.7,6,6.2,6.37,6.7,7,7.43,7.65,8,8.25,8.43,8.65,8.83,9,9.19,9.48,9.77,10],"range":["#3a239f","#402cc0","#443adb","#4447ef","#4059fb","#3070fb","#2f82f5","#2a93ec","#21a6e2","#14aad4","#03b5cb","#05bdc0","#2dbfa8","#3fc48d","#6ccf70","#8ccc55","#a6c23c","#bebd2a","#d2b826","#e6b238","#f8b040","#feb63a","#fbc92f","#f5d92b","#f5e828","#f9fb15"]},"legend":null}}},
{"transform":[{"filter":"datum.kind==='cbar'"}],"mark":{"type":"rect","stroke":"#262626","strokeWidth":2.4,"fill":{"x1":0,"y1":0,"x2":0,"y2":1,"gradient":"linear","stops":[{"offset":0,"color":"#f9fb15"},{"offset":0.033,"color":"#f5e828"},{"offset":0.074,"color":"#f5d92b"},{"offset":0.116,"color":"#fbc92f"},{"offset":0.143,"color":"#feb63a"},{"offset":0.167,"color":"#f8b040"},{"offset":0.193,"color":"#e6b238"},{"offset":0.224,"color":"#d2b826"},{"offset":0.25,"color":"#bebd2a"},{"offset":0.286,"color":"#a6c23c"},{"offset":0.336,"color":"#8ccc55"},{"offset":0.367,"color":"#6ccf70"},{"offset":0.429,"color":"#3fc48d"},{"offset":0.471,"color":"#2dbfa8"},{"offset":0.519,"color":"#05bdc0"},{"offset":0.543,"color":"#03b5cb"},{"offset":0.571,"color":"#14aad4"},{"offset":0.614,"color":"#21a6e2"},{"offset":0.664,"color":"#2a93ec"},{"offset":0.714,"color":"#2f82f5"},{"offset":0.757,"color":"#3070fb"},{"offset":0.804,"color":"#4059fb"},{"offset":0.857,"color":"#4447ef"},{"offset":0.9,"color":"#443adb"},{"offset":0.947,"color":"#402cc0"},{"offset":1,"color":"#3a239f"}]}},"encoding":{"x":{"field":"bx0","type":"quantitative"},"x2":{"field":"bx1"},"y":{"field":"cy0","type":"quantitative"},"y2":{"field":"cy1"}}},
{"transform":[{"filter":"datum.kind==='cb'"}],"mark":{"type":"rule","stroke":"#262626","strokeWidth":1.6},"encoding":{"x":{"field":"tx0","type":"quantitative"},"x2":{"field":"bx1"},"y":{"field":"cy","type":"quantitative"}}},
{"transform":[{"filter":"datum.kind==='cb'"}],"mark":{"type":"text","font":"Liberation Sans","fontSize":37,"fill":"#262626","align":"left","baseline":"middle","dy":4},"encoding":{"x":{"field":"lx","type":"quantitative"},"y":{"field":"cy","type":"quantitative"},"text":{"field":"v","type":"quantitative"}}},
{"transform":[{"filter":"datum.kind==='lz'"}],"mark":{"type":"text","font":"Liberation Sans","fontSize":37,"fill":"#262626","align":"right","baseline":"middle","dx":-28,"dy":-8},"encoding":{"text":{"field":"t"}}},
{"transform":[{"filter":"datum.kind==='lm'"}],"mark":{"type":"text","font":"Liberation Sans","fontSize":37,"fill":"#262626","align":"right","baseline":"middle","dx":-30,"dy":40},"encoding":{"text":{"field":"t"}}},
{"transform":[{"filter":"datum.kind==='la'"}],"mark":{"type":"text","font":"Liberation Sans","fontSize":37,"fill":"#262626","align":"left","baseline":"middle","dx":27,"dy":45},"encoding":{"text":{"field":"t"}}},
{"transform":[{"filter":"datum.kind==='ts'"}],"mark":{"type":"text","font":"Liberation Serif","fontStyle":"italic","fontSize":46,"fill":"#262626","align":"center","baseline":"middle"},"encoding":{"text":{"field":"t"}}},
{"transform":[{"filter":"datum.kind==='th'"}],"mark":{"type":"text","font":"Liberation Sans","fontSize":35,"fill":"#262626","align":"center","baseline":"middle"},"encoding":{"text":{"field":"t"}}},
{"transform":[{"filter":"datum.kind==='yl'"}],"mark":{"type":"text","font":"Liberation Serif","fontStyle":"italic","fontSize":44,"fill":"#262626","align":"center","baseline":"middle","angle":270},"encoding":{"text":{"field":"t"}}},
{"transform":[{"filter":"datum.kind==='yp'"}],"mark":{"type":"text","font":"Liberation Sans","fontSize":42,"fill":"#262626","align":"center","baseline":"middle","angle":270},"encoding":{"text":{"field":"t"}}},
{"transform":[{"filter":"datum.kind==='ys'"}],"mark":{"type":"text","font":"Liberation Sans","fontSize":35,"fill":"#262626","align":"center","baseline":"middle","angle":270},"encoding":{"text":{"field":"t"}}}
]}
